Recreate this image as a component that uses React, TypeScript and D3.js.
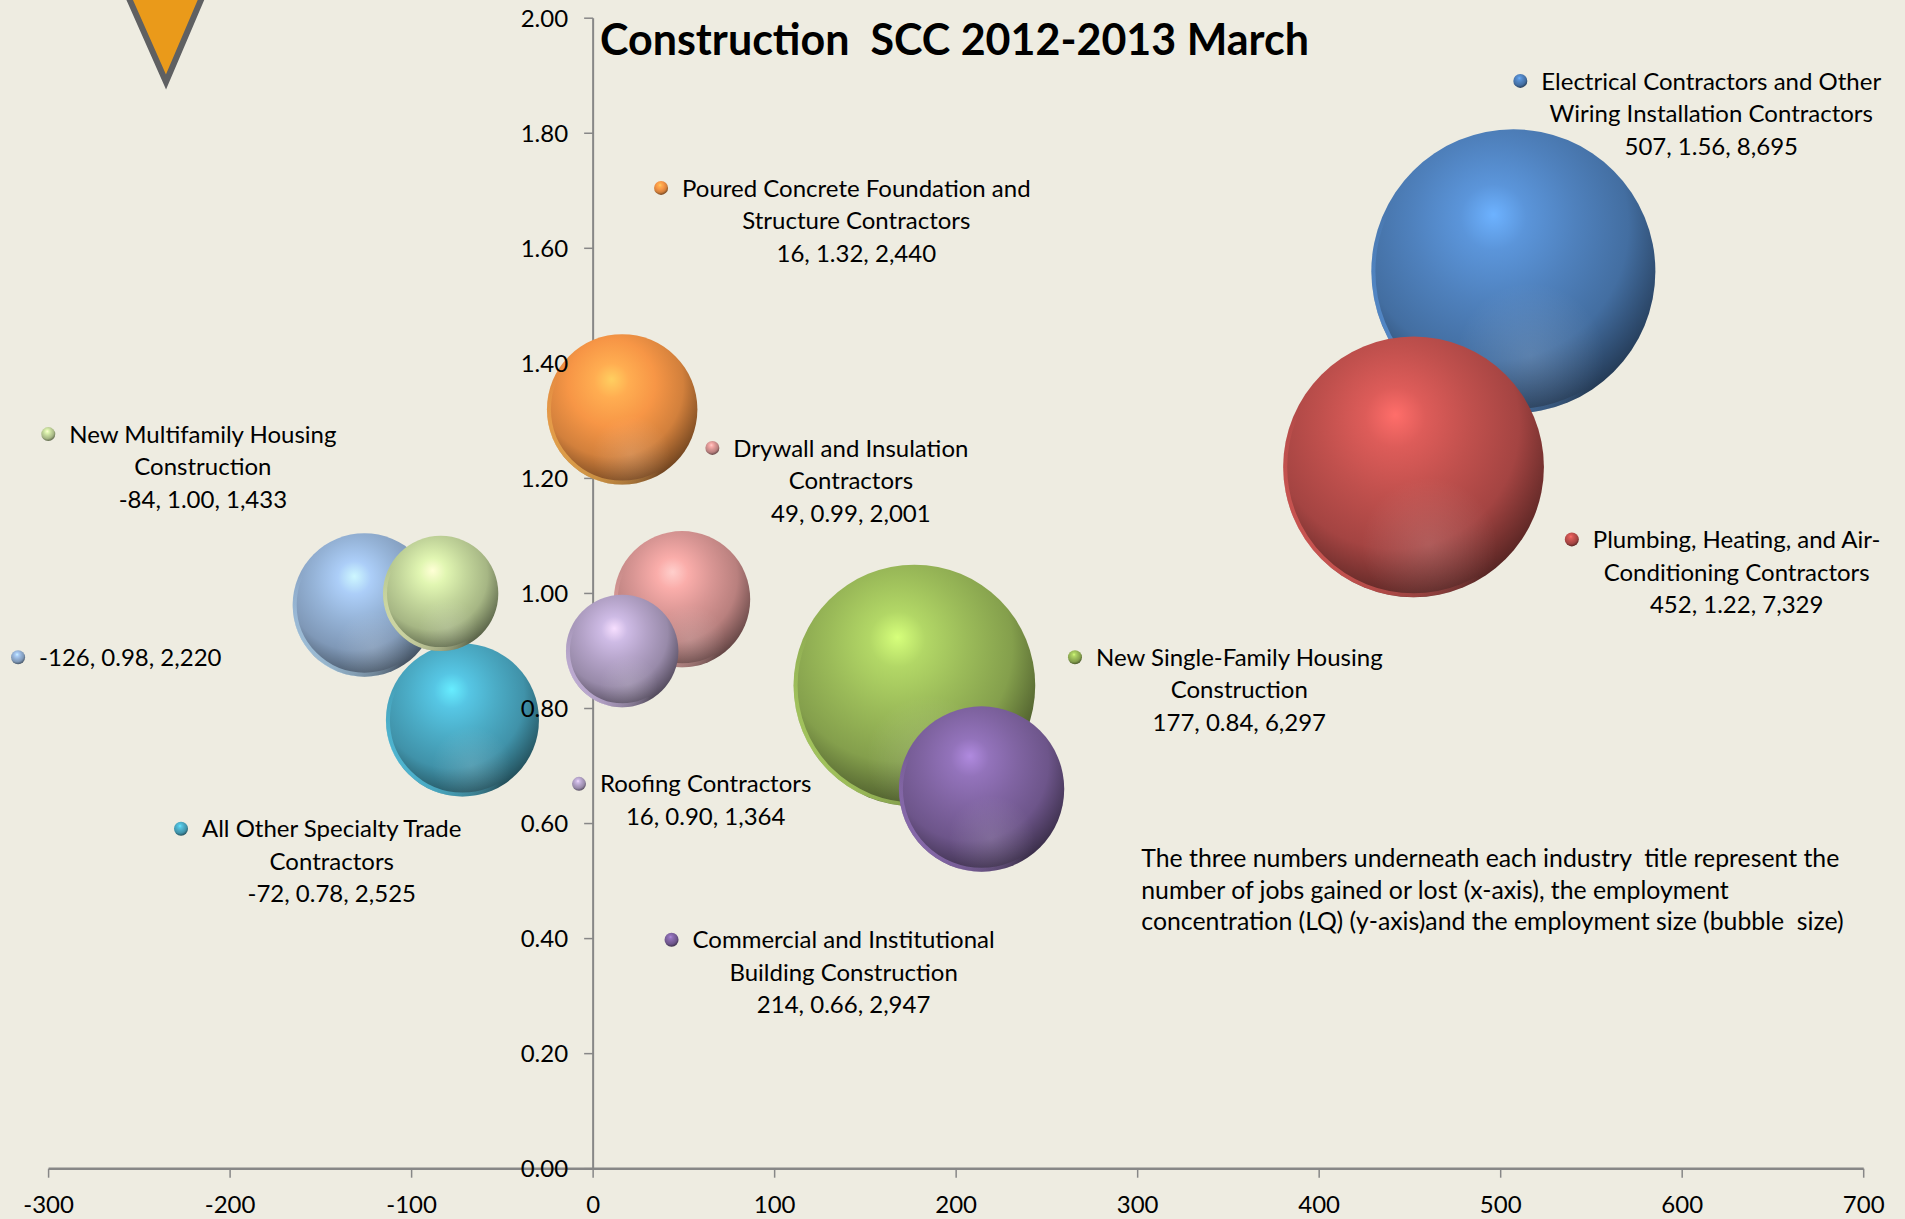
import React, { useEffect, useRef } from "react";
import * as d3 from "d3";

const W = 1905;
const H = 1219;

// ---- data ----
const industries = [
  "Electrical Contractors and Other\nWiring Installation Contractors",
  "Plumbing, Heating, and Air-\nConditioning Contractors",
  "New Single-Family Housing\nConstruction",
  "Commercial and Institutional\nBuilding Construction",
  "Poured Concrete Foundation and\nStructure Contractors",
  "Drywall and Insulation\nContractors",
  "Roofing Contractors",
  "",
  "All Other Specialty Trade\nContractors",
  "New Multifamily Housing\nConstruction",
];
const jobs = [507, 452, 177, 214, 16, 49, 16, -126, -72, -84];
const lq = [1.56, 1.22, 0.84, 0.66, 1.32, 0.99, 0.9, 0.98, 0.78, 1.0];
const employment = [8695, 7329, 6297, 2947, 2440, 2001, 1364, 2220, 2525, 1433];
const colors = [
  "#4F81BD",
  "#C0504D",
  "#9BBB59",
  "#8064A2",
  "#F79646",
  "#D99694",
  "#B3A2C7",
  "#95B3D7",
  "#4BACC6",
  "#C3D69B",
];
// label anchors (data units): centre x of text block, centre y of first line
const labelAtX = [616, 630, 356, 138, 145, 142, 62, -255, -144, -215];
const labelAtY = [1.891, 1.094, 0.889, 0.398, 1.705, 1.253, 0.669, 0.889, 0.591, 1.277];

const xTicks = [-300, -200, -100, 0, 100, 200, 300, 400, 500, 600, 700];
const yTicks = [0, 0.2, 0.4, 0.6, 0.8, 1.0, 1.2, 1.4, 1.6, 1.8, 2.0];

const TITLE = "Construction  SCC 2012-2013 March";
const noteLines = [
  "The three numbers underneath each industry  title represent the",
  "number of jobs gained or lost (x-axis), the employment",
  "concentration (LQ) (y-axis)and the employment size (bubble  size)",
];
const noteAt = [302, 0.54];

const FONT = "Lato, 'Open Sans', sans-serif";

export default function App() {
  const ref = useRef<SVGSVGElement>(null);

  useEffect(() => {
    const svg = d3.select(ref.current);
    svg.selectAll("*").remove();

    const x = d3.scaleLinear().domain([-300, 700]).range([48.6, 1863.7]);
    const y = d3.scaleLinear().domain([0, 2]).range([1168.7, 18.2]);
    const r = d3.scaleSqrt().domain([0, 8695]).range([0, 142]);

    const defs = svg.append("defs");
    colors.forEach((c, i) => {
      const base = d3.rgb(c);
      const hi = base.brighter(0.9);
      const g = defs
        .append("radialGradient")
        .attr("id", `sph${i}`)
        .attr("cx", 0.43)
        .attr("cy", 0.36)
        .attr("fx", 0.43)
        .attr("fy", 0.3)
        .attr("r", 0.72);
      const stops: [number, string][] = [
        [0, hi.formatHex()],
        [0.16, d3.interpolateRgb(hi, base)(0.6)],
        [0.4, base.formatHex()],
        [0.66, base.darker(0.45).formatHex()],
        [0.86, base.darker(1.7).formatHex()],
        [1, base.darker(3.2).formatHex()],
      ];
      stops.forEach(([o, col]) =>
        g.append("stop").attr("offset", o).attr("stop-color", col)
      );
      const rim = defs
        .append("linearGradient")
        .attr("id", `rim${i}`)
        .attr("x1", 0.12)
        .attr("y1", 0.95)
        .attr("x2", 0.42)
        .attr("y2", 0.62);
      rim.append("stop").attr("offset", 0).attr("stop-color", base.brighter(0.7).formatHex()).attr("stop-opacity", 0.75);
      rim.append("stop").attr("offset", 1).attr("stop-color", base.brighter(0.7).formatHex()).attr("stop-opacity", 0);
    });
    const refl = defs
      .append("radialGradient")
      .attr("id", "refl")
      .attr("cx", 0.56)
      .attr("cy", 0.8)
      .attr("r", 0.26);
    refl.append("stop").attr("offset", 0).attr("stop-color", "#fff").attr("stop-opacity", 0.13);
    refl.append("stop").attr("offset", 1).attr("stop-color", "#fff").attr("stop-opacity", 0);

    // background
    svg.append("rect").attr("width", W).attr("height", H).attr("fill", "#EEECE1");

    // decorative triangle (top-left)
    svg
      .append("path")
      .attr("d", "M 112 -40 L 218 -40 L 166 82 Z")
      .attr("fill", "#EA9A1A")
      .attr("stroke", "#5F6062")
      .attr("stroke-width", 6)
      .attr("stroke-linejoin", "miter");

    const axisCol = "#878787";
    // axis lines
    svg
      .append("line")
      .attr("x1", x(0))
      .attr("x2", x(0))
      .attr("y1", y(2))
      .attr("y2", y(0))
      .attr("stroke", axisCol)
      .attr("stroke-width", 2);
    svg
      .append("line")
      .attr("x1", x(-300))
      .attr("x2", x(700))
      .attr("y1", y(0))
      .attr("y2", y(0))
      .attr("stroke", axisCol)
      .attr("stroke-width", 2.5);
    // ticks
    svg
      .selectAll(".yt")
      .data(yTicks)
      .join("line")
      .attr("x1", x(0) - 9)
      .attr("x2", x(0))
      .attr("y1", (d) => y(d))
      .attr("y2", (d) => y(d))
      .attr("stroke", axisCol)
      .attr("stroke-width", 1.5);
    svg
      .selectAll(".xt")
      .data(xTicks)
      .join("line")
      .attr("x1", (d) => x(d))
      .attr("x2", (d) => x(d))
      .attr("y1", y(0))
      .attr("y2", y(0) + 9)
      .attr("stroke", axisCol)
      .attr("stroke-width", 1.5);

    // bubbles
    const idx = d3.range(jobs.length);
    const bg = svg.append("g");
    idx.forEach((i) => {
      const cx = x(jobs[i]);
      const cy = y(lq[i]);
      const rr = r(employment[i]);
      bg.append("circle").attr("cx", cx).attr("cy", cy).attr("r", rr).attr("fill", `url(#sph${i})`);
      bg.append("circle").attr("cx", cx).attr("cy", cy).attr("r", rr).attr("fill", "url(#refl)");
      bg.append("circle")
        .attr("cx", cx)
        .attr("cy", cy)
        .attr("r", rr - 2)
        .attr("fill", "none")
        .attr("stroke", `url(#rim${i})`)
        .attr("stroke-width", 4);
    });

    // tick labels
    svg
      .selectAll(".ytl")
      .data(yTicks)
      .join("text")
      .attr("x", x(0) - 25)
      .attr("y", (d) => y(d))
      .attr("dy", "0.36em")
      .attr("text-anchor", "end")
      .attr("font-family", FONT)
      .attr("font-size", 24)
      .attr("fill", "#000")
      .text((d) => d3.format(".2f")(d));
    svg
      .selectAll(".xtl")
      .data(xTicks)
      .join("text")
      .attr("x", (d) => x(d))
      .attr("y", y(0) + 36)
      .attr("dy", "0.36em")
      .attr("text-anchor", "middle")
      .attr("font-family", FONT)
      .attr("font-size", 24)
      .attr("fill", "#000")
      .text((d) => String(d));

    // data labels
    const lineH = 32.5;
    idx.forEach((i) => {
      const lines = (industries[i] ? industries[i].split("\n") : []).concat([
        `${jobs[i]}, ${lq[i].toFixed(2)}, ${d3.format(",")(employment[i])}`,
      ]);
      const ax = x(labelAtX[i]);
      const ay = y(labelAtY[i]);
      const g = svg.append("g");
      const texts = lines.map((ln, k) =>
        g
          .append("text")
          .attr("x", ax)
          .attr("y", ay + k * lineH)
          .attr("dy", "0.36em")
          .attr("text-anchor", "middle")
          .attr("font-family", FONT)
          .attr("font-size", 24)
          .attr("fill", "#000")
          .style("white-space", "pre")
          .text(ln)
      );
      const w0 = (texts[0].node() as SVGTextElement).getComputedTextLength();
      g.append("circle")
        .attr("cx", ax - w0 / 2 - 21)
        .attr("cy", ay)
        .attr("r", 7)
        .attr("fill", `url(#sph${i})`);
    });

    // note
    noteLines.forEach((ln, k) => {
      svg
        .append("text")
        .attr("x", x(noteAt[0]))
        .attr("y", y(noteAt[1]) + k * 31.6)
        .attr("dy", "0.36em")
        .attr("font-family", FONT)
        .attr("font-size", 24.8)
        .attr("fill", "#000")
        .style("white-space", "pre")
        .text(ln);
    });

    // title
    svg
      .append("text")
      .attr("x", 600)
      .attr("y", 55)
      .attr("font-family", FONT)
      .attr("font-size", 43)
      .attr("font-weight", "bold")
      .attr("fill", "#000")
      .style("white-space", "pre")
      .text(TITLE);
  }, []);

  return (
    <svg
      ref={ref}
      width={W}
      height={H}
      style={{ position: "absolute", left: 0, top: 0, display: "block" }}
    />
  );
}
